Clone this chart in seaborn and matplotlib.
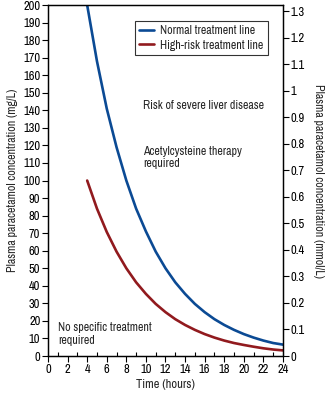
import matplotlib
matplotlib.use("Agg")
import matplotlib.pyplot as plt
import seaborn as sns
import pandas as pd
from matplotlib.ticker import MultipleLocator

sns.set_theme(style="ticks")
plt.rcParams['font.family'] = ['Liberation Sans Narrow', 'Archivo Narrow', 'DejaVu Sans']

# Data (mg/L)
hours = [4, 5, 6, 7, 8, 9, 10, 11, 12, 13, 14, 15, 16, 17, 18, 19, 20, 21, 22, 23, 24]
normal_line = [200, 168, 141, 119, 100, 84, 71, 59.5, 50, 42, 35.4, 29.7, 25, 21, 17.7,
               14.9, 12.5, 10.5, 8.8, 7.4, 6.5]
high_risk_line = [100, 84, 70.7, 59.5, 50, 42, 35.4, 29.7, 25, 21, 17.7, 14.9, 12.5, 10.5,
                  8.8, 7.4, 6.3, 5.3, 4.4, 3.7, 3.2]
series_names = ["Normal treatment line", "High-risk treatment line"]
colors = ["#0b4a94", "#911a1e"]
molar_mass = 151.16  # g/mol, for right axis mmol/L

df = pd.concat([
    pd.DataFrame({"Time": hours, "Conc": normal_line, "Line": series_names[0]}),
    pd.DataFrame({"Time": hours, "Conc": high_risk_line, "Line": series_names[1]}),
])

FS = 8.6

fig = plt.figure(figsize=(3.30, 3.93), dpi=100)
ax = fig.add_axes([0.1455, 0.0941, 0.712, 0.893])

sns.lineplot(data=df, x="Time", y="Conc", hue="Line", palette=colors, ax=ax,
             linewidth=1.9, legend=True)

ax.set_xlim(0, 24)
ax.set_ylim(0, 200)
ax.xaxis.set_major_locator(MultipleLocator(2))
ax.xaxis.set_minor_locator(MultipleLocator(1))
ax.yaxis.set_major_locator(MultipleLocator(10))
ax.tick_params(axis='both', which='major', direction='out', length=4, width=0.8,
               labelsize=9, pad=1.5, color='black', labelcolor='black')
ax.tick_params(axis='x', which='minor', direction='in', length=3, width=0.8, color='black')
for s in ax.spines.values():
    s.set_color('black')
    s.set_linewidth(0.9)

ax.set_xlabel("Time (hours)", fontsize=9, labelpad=3)
ax.set_ylabel("Plasma paracetamol concentration (mg/L)", fontsize=8.6, labelpad=4)

ax2 = ax.twinx()
ax2.set_ylim(0, 200 / molar_mass)
ax2.set_yticks([0, 0.1, 0.2, 0.3, 0.4, 0.5, 0.6, 0.7, 0.8, 0.9, 1.0, 1.1, 1.2, 1.3])
ax2.set_yticklabels(["0", "0.1", "0.2", "0.3", "0.4", "0.5", "0.6", "0.7", "0.8", "0.9",
                     "1", "1.1", "1.2", "1.3"])
ax2.tick_params(axis='y', direction='out', length=4, width=0.8, labelsize=9, pad=1.5,
                color='black', labelcolor='black')
ax2.set_ylabel("Plasma paracetamol concentration (mmol/L)", fontsize=8.6,
               rotation=-90, labelpad=14)
for s in ax2.spines.values():
    s.set_color('black')
    s.set_linewidth(0.9)

leg = ax.legend(loc='upper right', bbox_to_anchor=(0.935, 0.955), fontsize=FS,
                frameon=True, fancybox=False, edgecolor='black', handlelength=1.3,
                handletextpad=0.5, borderpad=0.35, labelspacing=0.3, borderaxespad=0)
leg.get_frame().set_linewidth(0.8)

ax.text(9.7, 143, "Risk of severe liver disease", fontsize=FS, va='center', ha='left')
ax.text(9.7, 113, "Acetylcysteine therapy\nrequired", fontsize=FS, va='center', ha='left',
        linespacing=1.15)
ax.text(1.0, 12.5, "No specific treatment\nrequired", fontsize=FS, va='center', ha='left',
        linespacing=1.15)

fig.savefig("out.png", dpi=100)
